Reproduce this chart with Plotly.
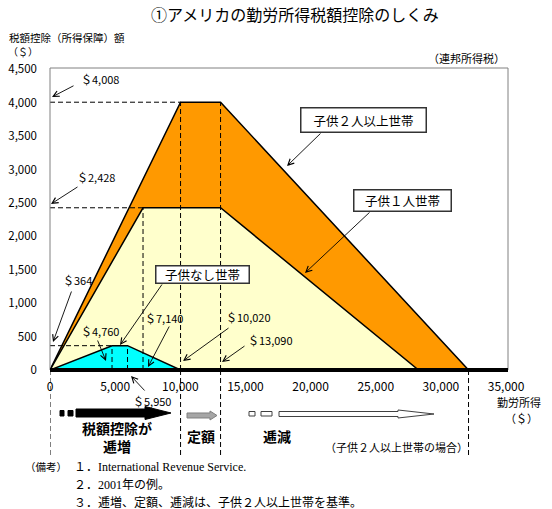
import plotly.graph_objects as go

# ---------------- data ----------------
income_2plus = [0, 10020, 13090, 32121]
credit_2plus = [0, 4008, 4008, 0]
income_1 = [0, 7140, 13090, 28281]
credit_1 = [0, 2428, 2428, 0]
income_0 = [0, 4760, 5950, 10020]
credit_0 = [0, 364, 364, 0]

x_tickvals = [0, 5000, 10000, 15000, 20000, 25000, 30000, 35000]
x_ticktext = ["0", "5,000", "10,000", "15,000", "20,000", "25,000", "30,000", "35,000"]
y_tickvals = [0, 500, 1000, 1500, 2000, 2500, 3000, 3500, 4000, 4500]
y_ticktext = ["0", "500", "1,000", "1,500", "2,000", "2,500", "3,000", "3,500", "4,000", "4,500"]

callout_texts = ["＄4,008", "＄2,428", "＄364", "＄4,760", "＄7,140", "＄10,020", "＄13,090", "＄5,950"]

COL_2 = "#FF9900"
COL_1 = "#FFFFCC"
COL_0 = "#00FFFF"

# ---------------- geometry helpers (layout only) ----------------
W, H = 552, 509
L, R, T, B = 50, 508, 68, 370
XR = [0, 35150]
YR = [0, 4520]
FONT = "Noto Sans CJK JP"
SERIF = "Liberation Serif, Noto Sans CJK JP"


def px_x(px):
    return (px - L) / (R - L) * (XR[1] - XR[0]) + XR[0]


def pp_x(px):
    return (px - L) / (R - L)


def pp_y(py):
    return (B - py) / (B - T)


fig = go.Figure()

for xs, ys, col in [(income_2plus, credit_2plus, COL_2),
                    (income_1, credit_1, COL_1),
                    (income_0, credit_0, COL_0)]:
    fig.add_trace(go.Scatter(x=xs + [xs[0]], y=ys + [ys[0]], mode="lines",
                             fill="toself", fillcolor=col,
                             line=dict(color="black", width=1.5),
                             hoverinfo="skip", showlegend=False))

shapes = []
DASH = "5px,3px"


def dline(x0, y0, x1, y1, yref="y"):
    shapes.append(dict(type="line", xref="x", yref=yref, x0=x0, y0=y0, x1=x1, y1=y1,
                       line=dict(color="black", width=1, dash=DASH), layer="above"))


below = pp_y(456)
dline(0, credit_2plus[1], income_2plus[1], credit_2plus[1])
dline(0, credit_1[1], income_1[1], credit_1[1])
dline(0, credit_0[1], income_0[1], credit_0[1])
dline(income_2plus[1], 0, income_2plus[1], credit_2plus[1])
dline(income_2plus[2], 0, income_2plus[2], credit_2plus[2])
dline(income_1[1], 0, income_1[1], credit_1[1])
dline(income_0[1], 0, income_0[1], credit_0[1])
dline(income_0[2], 0, income_0[2], credit_0[2])
for xv in [0, income_2plus[1], income_2plus[2], income_2plus[3]]:
    dline(xv, 0, xv, below, yref="paper")

shapes.append(dict(type="rect", xref="paper", yref="paper", x0=0, y0=0, x1=1, y1=1,
                   line=dict(color="#808080", width=1), layer="above"))
shapes.append(dict(type="line", xref="x", yref="paper", x0=0, y0=0, x1=XR[1], y1=0,
                   line=dict(color="black", width=4), layer="above"))


def block_arrow(x0, x1, yc, bh, hh, hl, fill, edge):
    pts = [(x0, yc - bh), (x1 - hl, yc - bh), (x1 - hl, yc - hh), (x1, yc),
           (x1 - hl, yc + hh), (x1 - hl, yc + bh), (x0, yc + bh)]
    path = "M " + " L ".join(f"{px_x(a):.2f},{pp_y(b):.5f}" for a, b in pts) + " Z"
    shapes.append(dict(type="path", xref="x", yref="paper", path=path,
                       fillcolor=fill, line=dict(color=edge, width=1)))


def small_box(x0, x1, y0, y1, fill, edge):
    shapes.append(dict(type="rect", xref="x", yref="paper", x0=px_x(x0), x1=px_x(x1),
                       y0=pp_y(y0), y1=pp_y(y1), fillcolor=fill, line=dict(color=edge, width=1)))


small_box(60, 64, 410.5, 416, "black", "black")
small_box(68, 73, 410.5, 416, "black", "black")
block_arrow(76, 171, 413, 4, 6.5, 26, "black", "black")
block_arrow(187, 217, 415.5, 2.5, 4.5, 7, "#A6A6A6", "#7F7F7F")
small_box(249, 255, 411.5, 416, "white", "#404040")
small_box(261, 272, 411.5, 416, "white", "#404040")
block_arrow(279, 434, 414, 2.5, 4, 36, "white", "#404040")

annotations = []


def txt(px, py, text, size=11, anchor="center", family=FONT, align="center"):
    annotations.append(dict(xref="paper", yref="paper", x=pp_x(px), y=pp_y(py),
                            text=text, showarrow=False, xanchor=anchor, yanchor="middle",
                            align=align, font=dict(family=family, size=size, color="black")))


def arrow(hx, hy, tx, ty):
    annotations.append(dict(xref="paper", yref="paper", x=pp_x(hx), y=pp_y(hy),
                            ax=tx - hx, ay=ty - hy, text="", showarrow=True,
                            arrowhead=5, arrowsize=1.3, arrowwidth=0.9, arrowcolor="black"))


callouts = [
    ((100, 79), (52, 97), (75, 85)),
    ((96, 177), (51, 204), (79, 186)),
    ((77, 280), (53, 342), (72, 290)),
    ((100, 331), (106, 361), (97, 339)),
    ((164, 318), (148, 367), (170, 325)),
    ((248, 317), (183, 361), (230, 327)),
    ((270, 340), (222, 362), (246, 345)),
    ((152, 401), (131, 376), (146, 392)),
]
for label, (tc, hd, tl) in zip(callout_texts, callouts):
    txt(tc[0], tc[1], label, size=11)
    arrow(hd[0], hd[1], tl[0], tl[1])

boxes = [
    ("子供２人以上世帯", (363, 119.5), 122, 21, (287, 166), (322, 132)),
    ("子供１人世帯", (402, 200), 94, 18, (305, 273), (371, 211)),
    ("子供なし世帯", (202, 274), 90, 14, (120, 345), (163, 283)),
]
for text, (cx, cy), bw, bh, hd, tl in boxes:
    annotations.append(dict(xref="paper", yref="paper", x=pp_x(cx), y=pp_y(cy),
                            text=text, showarrow=False, xanchor="center", yanchor="middle",
                            width=bw, height=bh, bgcolor="white", bordercolor="#333333",
                            borderwidth=1.5, borderpad=1,
                            font=dict(family=FONT, size=12.5, color="black")))
    arrow(hd[0], hd[1], tl[0], tl[1])

txt(295, 14, "①アメリカの勤労所得税額控除のしくみ", size=16)
txt(7, 37, "税額控除（所得保障）額", size=10.5, anchor="left")
txt(23, 52, "（＄）", size=10)
txt(507, 58, "（連邦所得税）", size=11, anchor="right")
txt(543, 402, "勤労所得", size=11, anchor="right")
txt(540, 418, "（＄）", size=11, anchor="right")
txt(117, 437, "<b>税額控除が<br>逓増</b>", size=14)
txt(201, 436, "<b>定額</b>", size=14)
txt(277, 436, "<b>逓減</b>", size=14)
txt(396, 447, "（子供２人以上世帯の場合）", size=11)
txt(69, 467, "（備考）", size=10.5, anchor="right", family=SERIF)
txt(72, 467, "１．International Revenue Service.", size=12, anchor="left", family=SERIF)
txt(72, 485, "２．2001年の例。", size=12, anchor="left", family=SERIF)
txt(72, 502, "３．逓増、定額、逓減は、子供２人以上世帯を基準。", size=12, anchor="left", family=SERIF)

fig.update_layout(
    width=W, height=H,
    margin=dict(l=L, r=W - R, t=T, b=H - B, pad=0, autoexpand=False),
    paper_bgcolor="white", plot_bgcolor="white",
    font=dict(family=FONT, size=12, color="black"),
    showlegend=False,
    shapes=shapes, annotations=annotations,
    xaxis=dict(range=XR, tickvals=x_tickvals, ticktext=x_ticktext, showgrid=False,
               zeroline=False, showline=False, ticks="", ticklabelstandoff=8,
               automargin=False, tickfont=dict(size=12, family=FONT), fixedrange=True),
    yaxis=dict(range=YR, tickvals=y_tickvals, ticktext=y_ticktext, showgrid=False,
               zeroline=False, showline=False, ticks="", ticklabelstandoff=12,
               automargin=False, tickfont=dict(size=11.5, family=FONT), fixedrange=True),
)

fig.write_html("out.html")
